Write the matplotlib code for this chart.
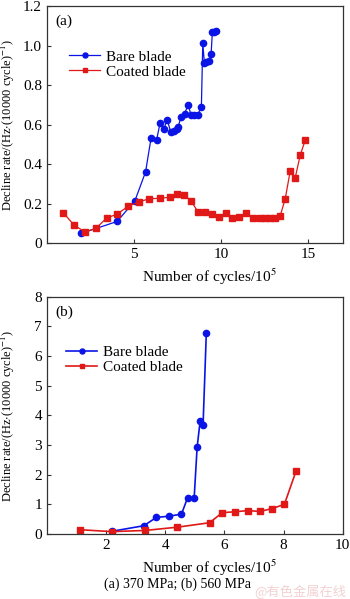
import matplotlib
matplotlib.use('Agg')
from matplotlib import pyplot as plt

plt.rcParams['font.family'] = ['Liberation Serif', 'DejaVu Serif']
plt.rcParams['mathtext.fontset'] = 'stix'

# (a) 370 MPa
a_bare_x = [1.98, 4.04, 5.06, 5.67, 5.99, 6.30, 6.51, 6.72, 6.91, 7.12, 7.29, 7.48, 7.54,
            7.71, 7.91, 8.12, 8.29, 8.48, 8.67, 8.88, 8.96, 9.05, 9.17, 9.30, 9.44, 9.51,
            9.63, 9.74]
a_bare_y = [0.05, 0.11, 0.215, 0.36, 0.533, 0.52, 0.61, 0.577, 0.625, 0.563, 0.568, 0.58,
            0.588, 0.638, 0.655, 0.70, 0.647, 0.647, 0.65, 0.69, 1.013, 0.913, 0.917, 0.92,
            0.958, 1.067, 1.07, 1.075]
a_coat_x = [0.95, 1.58, 2.19, 2.82, 3.43, 4.04, 4.67, 5.27, 5.88, 6.49, 7.10, 7.49, 7.89,
            8.29, 8.69, 9.09, 9.49, 9.89, 10.28, 10.66, 11.06, 11.46, 11.85, 12.23, 12.51,
            12.82, 13.13, 13.41, 13.70, 13.99, 14.27, 14.56, 14.85]
a_coat_y = [0.153, 0.09, 0.057, 0.075, 0.127, 0.147, 0.187, 0.208, 0.225, 0.227, 0.233,
            0.25, 0.245, 0.213, 0.158, 0.158, 0.15, 0.133, 0.155, 0.127, 0.13, 0.152, 0.127,
            0.127, 0.127, 0.127, 0.127, 0.138, 0.225, 0.367, 0.33, 0.445, 0.522]

# (b) 560 MPa
b_bare_x = [2.19, 3.28, 3.70, 4.12, 4.55, 4.76, 4.98, 5.08, 5.18, 5.28, 5.39]
b_bare_y = [0.09, 0.28, 0.56, 0.60, 0.67, 1.23, 1.23, 2.93, 3.80, 3.67, 6.77]
b_coat_x = [1.12, 2.19, 3.32, 4.41, 5.50, 5.93, 6.36, 6.79, 7.21, 7.62, 8.03, 8.42]
b_coat_y = [0.145, 0.08, 0.12, 0.23, 0.38, 0.72, 0.75, 0.79, 0.76, 0.86, 1.0, 2.11]

ylabel = 'Decline rate/(Hz$\\cdot$(10000 cycle)$^{-1}$)'
xlabel = 'Number of cycles/10$^5$'
blue = '#0a14e6'
red = '#e01818'

fig = plt.figure(figsize=(3.5, 5.99), dpi=100)
ax1 = fig.add_axes([0.134, 0.594, 0.845, 0.396])
ax2 = fig.add_axes([0.134, 0.1085, 0.845, 0.396])

for ax in (ax1, ax2):
    for s in ax.spines.values():
        s.set_color('#333333')
        s.set_linewidth(0.9)
    ax.tick_params(direction='in', labelsize=11, length=3, width=0.8, colors='#333333',
                   labelcolor='black')

ax1.plot(a_bare_x, a_bare_y, '-o', color=blue, lw=0.9, ms=4.5, label='Bare blade')
ax1.plot(a_coat_x, a_coat_y, '-s', color=red, lw=0.9, ms=3.8, label='Coated blade')
ax1.set_xlim(0, 17)
ax1.set_ylim(0, 1.2)
ax1.set_xticks([5, 10, 15])
ax1.set_yticks([0, 0.2, 0.4, 0.6, 0.8, 1.0, 1.2])
ax1.set_yticklabels(['0', '0.2', '0.4', '0.6', '0.8', '1.0', '1.2'])
ax1.set_xlabel(xlabel, fontsize=11)
ax1.xaxis.set_label_coords(0.55, -0.1)
ax1.set_ylabel(ylabel, fontsize=9)
ax1.yaxis.set_label_coords(-0.1, 0.5)
ax1.text(0.03, 0.965, '(a)', transform=ax1.transAxes, fontsize=11, va='top')
ax1.legend(loc='upper left', bbox_to_anchor=(0.04, 0.86), frameon=False, fontsize=11,
           handlelength=2.0, handletextpad=0.4, labelspacing=0.1, borderaxespad=0.3,
           markerscale=0.8)

ax2.plot(b_bare_x, b_bare_y, '-o', color=blue, lw=1.2, ms=4.5, label='Bare blade')
ax2.plot(b_coat_x, b_coat_y, '-s', color=red, lw=1.2, ms=3.8, label='Coated blade')
ax2.set_xlim(0, 10)
ax2.set_ylim(0, 8)
ax2.set_xticks([2, 4, 6, 8, 10])
ax2.set_yticks(range(0, 9))
ax2.set_xlabel(xlabel, fontsize=11)
ax2.xaxis.set_label_coords(0.55, -0.1)
ax2.set_ylabel(ylabel, fontsize=9)
ax2.yaxis.set_label_coords(-0.1, 0.5)
ax2.text(0.03, 0.965, '(b)', transform=ax2.transAxes, fontsize=11, va='top')
ax2.legend(loc='upper left', bbox_to_anchor=(0.03, 0.84), frameon=False, fontsize=11,
           handlelength=2.0, handletextpad=0.4, labelspacing=0.1, borderaxespad=0.3,
           markerscale=0.8)

fig.text(0.508, 0.025, '(a) 370 MPa; (b) 560 MPa', ha='center', va='center', fontsize=10)
fig.text(0.988, 0.012, '@有色金属在线', ha='right', va='center', fontsize=9.5,
         color='#f2d2d2', family=['Noto Sans CJK SC', 'DejaVu Sans'])

fig.savefig('out.png', dpi=100)
